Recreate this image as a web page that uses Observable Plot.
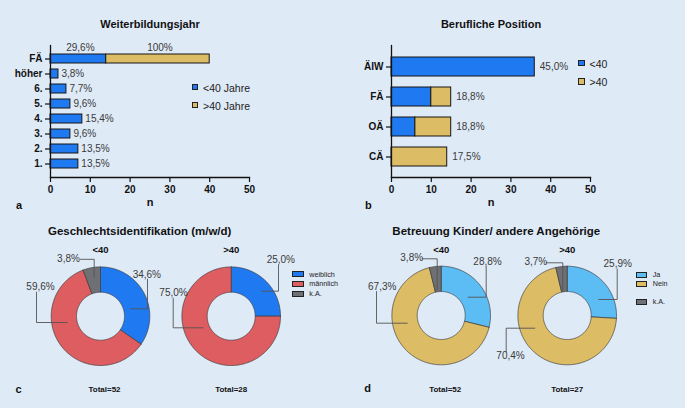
<!DOCTYPE html>
<html><head><meta charset="utf-8">
<script src="https://cdn.jsdelivr.net/npm/d3@7"></script>
<script src="https://cdn.jsdelivr.net/npm/@observablehq/plot@0.6"></script>
<style>
body{margin:0;background:#dfeaf7;}
#root{position:relative;width:685px;height:408px;background:#dfeaf7;overflow:hidden;font-family:"Liberation Sans",Arial,Helvetica,sans-serif;color:#111;}
#root svg{position:absolute;}
.t{position:absolute;transform:translate(-50%,-50%);white-space:nowrap;line-height:1;}
.lg{position:absolute;transform:translateY(-50%);white-space:nowrap;line-height:1;color:#222;}
.sw{position:absolute;box-sizing:border-box;border:1px solid #222;}
</style></head><body><div id="root"></div>
<script>
// ---------- data ----------
const yearCats = ["FÄ","höher","6.","5.","4.","3.","2.","1."];
const yearUnder40 = [14,2,4,5,8,5,7,7];
const yearOver40 = [26,0,0,0,0,0,0,0];
const yearLabels = ["","3,8%","7,7%","9,6%","15,4%","9,6%","13,5%","13,5%"];
const faSegmentLabels = ["29,6%","100%"];

const posCats = ["ÄIW","FÄ","OÄ","CÄ"];
const posUnder40 = [36,10,6,0];
const posOver40 = [0,5,9,14];
const posLabels = ["45,0%","18,8%","18,8%","17,5%"];

const xTicks = [0,10,20,30,40,50];

const genderCats = ["weiblich","männlich","k.A."];
const genderUnder40 = [18,31,3];
const genderOver40 = [7,21,0];
const genderLabelsUnder40 = ["34,6%","59,6%","3,8%"];
const genderLabelsOver40 = ["25,0%","75,0%",""];

const careCats = ["Ja","Nein","k.A."];
const careUnder40 = [15,35,2];
const careOver40 = [7,19,1];
const careLabelsUnder40 = ["28,8%","67,3%","3,8%"];
const careLabelsOver40 = ["25,9%","70,4%","3,7%"];

const groupTitles = ["<40",">40","<40",">40"];
const totals = ["Total=52","Total=28","Total=52","Total=27"];

// ---------- styling ----------
const FONT = '"Liberation Sans", Arial, Helvetica, sans-serif';
const blue="#1f7af2", gold="#dcbc64", red="#dd5d60", grey="#6e7074", lightBlue="#5cbdf5";
const root = document.getElementById("root");
function place(el, left, top){ el.style.left=left+"px"; el.style.top=top+"px"; root.appendChild(el); }
function txt(s, x, y, size, bold, cls="t"){ const d=document.createElement("div"); d.className=cls; d.textContent=s; d.style.fontSize=size+"px"; if(bold) d.style.fontWeight="bold"; place(d,x,y); return d; }
function swatch(x,y,w,h,color){ const d=document.createElement("div"); d.className="sw"; d.style.width=w+"px"; d.style.height=h+"px"; d.style.background=color; place(d,x,y-h/2); }

// ---------- bar panels ----------
function barPanel({cats, under, over, labels, title, left, width, marginLeft, padIn, padOut, extra}) {
  const rows = cats.flatMap((c,i)=>[{cat:c,group:"<40",n:under[i]},{cat:c,group:">40",n:over[i]}]).filter(d=>d.n>0);
  const ends = cats.map((c,i)=>({cat:c, n:under[i]+over[i], t:labels[i]})).filter(d=>d.t);
  const svg = Plot.plot({
    width, height:215, marginLeft, marginRight: width - marginLeft - 199, marginTop:45, marginBottom:38,
    style:{background:"transparent", fontFamily:FONT, color:"#111", overflow:"visible"},
    x:{domain:[0,50]},
    y:{domain:cats, paddingInner:padIn, paddingOuter:padOut},
    color:{domain:["<40",">40"], range:[blue,gold]},
    marks:[
      Plot.barX(rows, {x:"n", y:"cat", fill:"group", stroke:"#151515", strokeWidth:1}),
      Plot.text(ends, {x:"n", y:"cat", text:"t", textAnchor:"start", dx:extra.dx, fontSize:10, fill:"#3a3a3a"}),
      ...(extra.marks||[]),
      Plot.axisX({ticks:xTicks, tickSize:5, tickPadding:3, fontWeight:"bold", fontSize:10, label:null, strokeWidth:1.2}),
      Plot.axisY({tickSize:5, tickPadding:3, fontWeight:"bold", fontSize:10, label:null, strokeWidth:1.2}),
      Plot.frame({anchor:"bottom", strokeWidth:1.3}),
      Plot.frame({anchor:"left", strokeWidth:1.3}),
      Plot.text(["n"], {text:d=>d, frameAnchor:"bottom", dy:28, fontWeight:"bold", fontSize:11}),
      Plot.text([title], {text:d=>d, frameAnchor:"top", dy:-25, fontWeight:"bold", fontSize:11})
    ]
  });
  svg.style.left = left+"px"; svg.style.top = "0px";
  root.appendChild(svg);
}

// FÄ segment labels above the stacked bar (centred on each segment)
const faSegs = [
  {cat:"FÄ", x:yearUnder40[0]/2, t:faSegmentLabels[0]},
  {cat:"FÄ", x:yearUnder40[0]+yearOver40[0]/2, t:faSegmentLabels[1]}
];

barPanel({cats:yearCats, under:yearUnder40, over:yearOver40, labels:yearLabels, title:"Weiterbildungsjahr",
  left:0, width:342, marginLeft:50, padIn:0.38, padOut:0.35,
  extra:{dx:3, marks:[Plot.text(faSegs, {x:"x", y:"cat", text:"t", dy:-11, dx:2, fontSize:10, fill:"#3a3a3a"})]}});
barPanel({cats:posCats, under:posUnder40, over:posOver40, labels:posLabels, title:"Berufliche Position",
  left:340, width:345, marginLeft:51, padIn:0.37, padOut:0.365, extra:{dx:5}});

// legends (top)
swatch(191.5,87,6.5,6.5,blue);  txt("<40 Jahre",203,87.5,10.5,false,"lg");
swatch(191.5,105,6.5,6.5,gold); txt(">40 Jahre",203,105.5,10.5,false,"lg");
swatch(578,63,6.5,6.5,blue);  txt("<40",589.5,63.5,10.5,false,"lg");
swatch(578,81.5,6.5,6.5,gold); txt(">40",589.5,82,10.5,false,"lg");

// ---------- donut panels ----------
const R = 49.3, RI = 24;
const centers = [[100,315.7],[230.7,315.7],[440.7,315],[566.7,315]];
const donuts = [
  {cats:genderCats, values:genderUnder40, labels:genderLabelsUnder40},
  {cats:genderCats, values:genderOver40,  labels:genderLabelsOver40},
  {cats:careCats,   values:careUnder40,   labels:careLabelsUnder40},
  {cats:careCats,   values:careOver40,    labels:careLabelsOver40}
];
// label annotation geometry relative to each donut centre: [text offset, leader polyline]
const annot = [
  [ [[46.3,-41.4],[[47,-37],[47,-7.4],[30,-7.4]]],
    [[-60,-29.7],[[-64,-24],[-64,6.3],[-33.3,6.3]]],
    [[-32,-57.4],[[-20,-56.9],[-6.3,-56.9],[-6.3,-39]]] ],
  [ [[49.6,-56.4],[[47.3,-51.5],[47.3,-25],[30.3,-25]]],
    [[-57.7,-23],[[-58,-18],[-58,11.6],[-28,11.6]]],
    null ],
  [ [[46.3,-53.3],[[45,-49],[45,-18.3],[27,-18.3]]],
    [[-59,-29],[[-64.7,-24],[-64.7,7.7],[-34,7.7]]],
    [[-29.5,-57.7],[[-19,-56.7],[-4,-56.7],[-4,-25.7]]] ],
  [ [[50.5,-51.7],[[50,-46.5],[50,-16],[31.6,-16]]],
    [[-56.7,40.7],[[-61,36.5],[-61,12.7],[-32.4,12.7]]],
    [[-31.4,-53.3],[[-21,-52.7],[-4.4,-52.7],[-4.4,-25]]] ]
];

const slicePts = [], leaderPts = [], labelPts = [], headPts = [];
donuts.forEach((dn,di)=>{
  const [cx,cy] = centers[di];
  const total = d3.sum(dn.values);
  let acc = 0;
  dn.values.forEach((v,i)=>{
    if (!v) return;
    const a0 = acc/total*2*Math.PI, a1 = (acc+v)/total*2*Math.PI; acc += v;
    const n = Math.max(2, Math.ceil((a1-a0)/(Math.PI/180)));
    const key = di+"-"+i, ring = [];
    for (let k=0;k<=n;k++){ const a=a0+(a1-a0)*k/n; ring.push([cx+R*Math.sin(a), cy-R*Math.cos(a)]); }
    for (let k=n;k>=0;k--){ const a=a0+(a1-a0)*k/n; ring.push([cx+RI*Math.sin(a), cy-RI*Math.cos(a)]); }
    ring.push(ring[0]);
    ring.forEach(([x,y])=>slicePts.push({x,y,key,cat:dn.cats[i]}));
    const an = annot[di][i];
    if (an && dn.labels[i]) {
      labelPts.push({x:cx+an[0][0], y:cy+an[0][1], t:dn.labels[i]});
      an[1].forEach(([dx,dy])=>leaderPts.push({x:cx+dx, y:cy+dy, key}));
    }
  });
  headPts.push({x:cx, y:cy-66, t:groupTitles[di], kind:"head"});
  headPts.push({x:cx+(di%2===0?4:0), y:cy+73.5, t:totals[di], kind:"total"});
});

const bottom = Plot.plot({
  width:685, height:208, margin:0,
  style:{background:"transparent", fontFamily:FONT, color:"#111", overflow:"visible"},
  x:{domain:[0,685], range:[0,685], axis:null},
  y:{domain:[200,408], range:[0,208], axis:null},
  color:{domain:["weiblich","männlich","k.A.","Ja","Nein"], range:[blue,red,grey,lightBlue,gold]},
  marks:[
    Plot.line(slicePts, {x:"x", y:"y", z:"key", fill:"cat", stroke:"#3c3c3c", strokeWidth:0.7, strokeLinejoin:"round"}),
    Plot.line(leaderPts, {x:"x", y:"y", z:"key", stroke:"#555", strokeWidth:0.9}),
    Plot.text(labelPts, {x:"x", y:"y", text:"t", fontSize:10, fill:"#3a3a3a"}),
    Plot.text(headPts.filter(d=>d.kind==="head"), {x:"x", y:"y", text:"t", fontSize:9.5, fontWeight:"bold", fill:"#111"}),
    Plot.text(headPts.filter(d=>d.kind==="total"), {x:"x", y:"y", text:"t", fontSize:8, fontWeight:"bold", fill:"#111"})
  ]
});
bottom.style.left="0px"; bottom.style.top="200px";
root.appendChild(bottom);

// bottom titles
txt("Geschlechtsidentifikation (m/w/d)",139.7,232,11.5,true);
txt("Betreuung Kinder/ andere Angehörige",496.3,231.5,11.5,true);

// bottom legends
const lgC = [[genderCats[0],blue,274.3],[genderCats[1],red,284],[genderCats[2],grey,293.7]];
lgC.forEach(([s,c,y])=>{ swatch(292.3,y,11.7,5.8,c); txt(s,309.3,y+0.3,7.2,false,"lg"); });
const lgD = [[careCats[0],lightBlue,274.7],[careCats[1],gold,284],[careCats[2],grey,301.7]];
lgD.forEach(([s,c,y])=>{ swatch(636,y,11,5.8,c); txt(s,652.7,y+0.3,7.2,false,"lg"); });

// panel letters
txt("a",19,205,11,true); txt("b",368.3,205,11,true);
txt("c",18.5,388.5,11,true); txt("d",367.7,387.5,11,true);
</script></body></html>
